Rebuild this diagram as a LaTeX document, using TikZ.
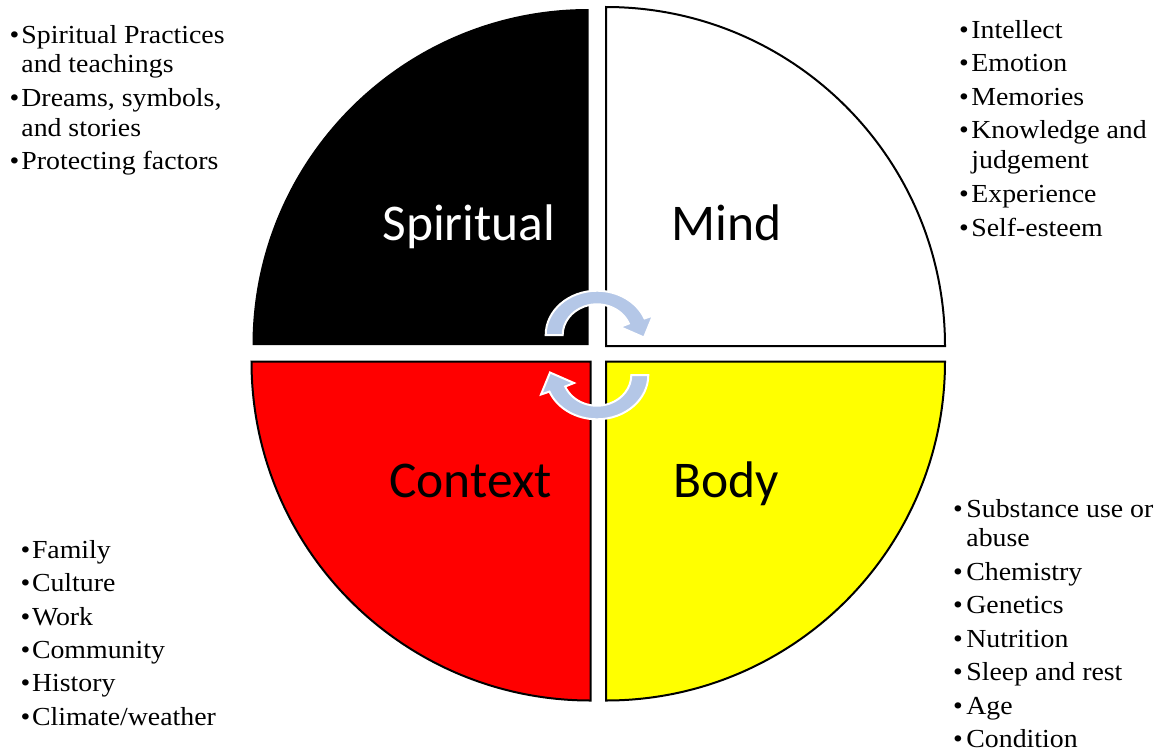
\documentclass[tikz,border=0pt]{standalone}
\usepackage{fontspec}
\newfontfamily\labelfam{Carlito}
\newfontfamily\listfam[FakeStretch=1.07]{Liberation Serif}
\definecolor{arrowblue}{RGB}{180,199,231}
\definecolor{quadred}{RGB}{255,0,0}
\definecolor{quadyellow}{RGB}{255,255,0}
\newcommand\myitem[5]{% name, bullet x, text x, baseline y, text
  \node[bul] (#1b) at (#2,#4) {•};
  \node[itm] (#1) at (#3,#4) {#5};}
\newcommand\mycont[4]{% name, text x, baseline y, text
  \node[itm] (#1) at (#2,#3) {#4};}
\begin{document}
\begin{tikzpicture}[x=1pt,y=-1pt,
  quad/.style={draw=black,line width=2pt},
  lbl/.style={font={\labelfam\fontsize{51.5}{60}\selectfont},inner sep=0pt,anchor=base},
  bul/.style={font={\listfam\fontsize{26}{30}\selectfont},inner sep=0pt,anchor=base},
  itm/.style={font={\listfam\fontsize{26}{30}\selectfont},inner sep=0pt,anchor=base west},
  cyc/.style={fill=arrowblue,draw=white,line width=2pt}]
\fill[white] (0,0) rectangle (1157,753);
\useasboundingbox (0,0) rectangle (1157,753);
% quadrants
\fill[black] (588.5,345) -- (252.5,345) arc[start angle=180,end angle=270,radius=336] -- cycle;
\path[quad,fill=white] (606,346) -- (945,346) arc[start angle=0,end angle=-90,radius=339] -- cycle;
\path[quad,fill=quadred] (590.5,361.5) -- (251.5,361.5) arc[start angle=180,end angle=90,radius=339] -- cycle;
\path[quad,fill=quadyellow] (606,361.5) -- (945,361.5) arc[start angle=0,end angle=90,radius=339] -- cycle;
% labels
\node[lbl,text=white] (spiritual) at (469,240) {Spiritual};
\node[lbl] (mind) at (726.5,240) {Mind};
\node[lbl] (context) at (470.5,497) {Context};
\node[lbl] (body) at (726.5,497) {Body};
% cycle arrows
\path[cyc] (545.7,335) arc[start angle=180,end angle=338,x radius=51.3,y radius=44.3]
  -- (653,315.5) -- (644,337.5) -- (620,327) -- (628.8,323.5)
  arc[start angle=338,end angle=180,x radius=34.3,y radius=30.7] -- cycle;
\path[cyc,rotate around={180:(597,355)}] (545.7,335) arc[start angle=180,end angle=338,x radius=51.3,y radius=44.3]
  -- (653,315.5) -- (644,337.5) -- (620,327) -- (628.8,323.5)
  arc[start angle=338,end angle=180,x radius=34.3,y radius=30.7] -- cycle;
% Spiritual list
\myitem{s1}{14.5}{21.2}{43}{Spiritual Practices}
\mycont{s1c}{21.2}{72.5}{and teachings}
\myitem{s2}{14.5}{21.2}{106.5}{Dreams, symbols,}
\mycont{s2c}{21.2}{136}{and stories}
\myitem{s3}{14.5}{21.2}{169.5}{Protecting factors}
% Mind list
\myitem{m1}{964}{971.2}{38.3}{Intellect}
\myitem{m2}{964}{971.2}{71.7}{Emotion}
\myitem{m3}{964}{971.2}{105}{Memories}
\myitem{m4}{964}{971.2}{138.3}{Knowledge and}
\mycont{m4c}{971.2}{168}{judgement}
\myitem{m5}{964}{971.2}{202.5}{Experience}
\myitem{m6}{964}{971.2}{236}{Self-esteem}
% Body list
\myitem{b1}{958}{966.2}{517}{Substance use or}
\mycont{b1c}{966.2}{546.5}{abuse}
\myitem{b2}{958}{966.2}{580}{Chemistry}
\myitem{b3}{958}{966.2}{613.5}{Genetics}
\myitem{b4}{958}{966.2}{647}{Nutrition}
\myitem{b5}{958}{966.2}{680.5}{Sleep and rest}
\myitem{b6}{958}{966.2}{714}{Age}
\myitem{b7}{958}{966.2}{747.5}{Condition}
% Context list
\myitem{c1}{25.5}{31.8}{558.3}{Family}
\myitem{c2}{25.5}{31.8}{591.7}{Culture}
\myitem{c3}{25.5}{31.8}{625}{Work}
\myitem{c4}{25.5}{31.8}{658.4}{Community}
\myitem{c5}{25.5}{31.8}{691.8}{History}
\myitem{c6}{25.5}{31.8}{725.2}{Climate/weather}
\end{tikzpicture}
\end{document}
